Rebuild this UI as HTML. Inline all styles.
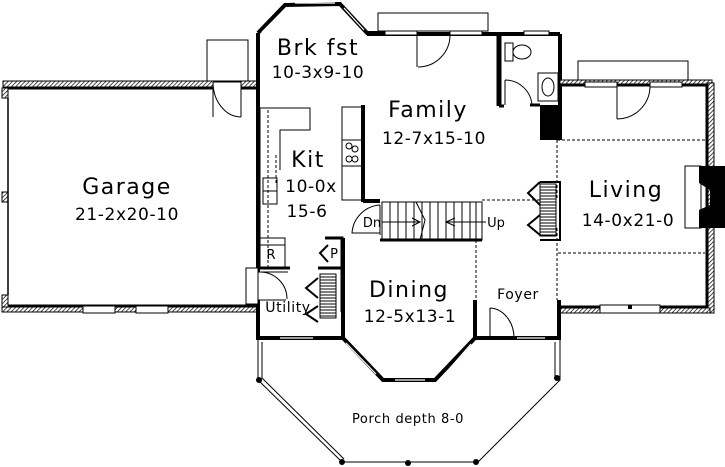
<!DOCTYPE html>
<html><head><meta charset="utf-8"><style>
html,body{margin:0;padding:0;background:#fff;width:725px;height:467px;overflow:hidden}
text{font-family:"DejaVu Sans","Liberation Sans",sans-serif;fill:#000}
.b{letter-spacing:1.5px}
.m{letter-spacing:0.6px}
</style></head><body>
<svg width="725" height="467" viewBox="0 0 725 467" xmlns="http://www.w3.org/2000/svg">
<defs>
<pattern id="h" width="3" height="3" patternUnits="userSpaceOnUse" patternTransform="rotate(45)">
<rect width="3" height="3" fill="#fff"/><line x1="0" y1="0" x2="0" y2="3" stroke="#000" stroke-width="1.4"/></pattern>
<pattern id="s" width="4" height="3" patternUnits="userSpaceOnUse">
<rect width="4" height="3" fill="#fff"/><line x1="0" y1="1" x2="4" y2="1" stroke="#000" stroke-width="1"/></pattern>
</defs>
<g fill="none" stroke="#000">
<!-- Garage -->
<rect x="3" y="81" width="255" height="6" fill="url(#h)" stroke-width="1"/>
<line x1="8" y1="88" x2="258" y2="88" stroke-width="3"/>
<rect x="2" y="88" width="6" height="10" fill="url(#h)" stroke-width="1"/>
<rect x="2" y="192" width="6" height="10" fill="url(#h)" stroke-width="1"/>
<line x1="8" y1="98" x2="8" y2="295" stroke-width="1.5"/>
<rect x="2" y="295" width="6" height="12" fill="url(#h)" stroke-width="1"/>
<rect x="2" y="307" width="256" height="5" fill="url(#h)" stroke-width="1"/>
<line x1="8" y1="306" x2="258" y2="306" stroke-width="3"/>
<rect x="83" y="306" width="32" height="7" fill="#fff" stroke-width="1"/>
<rect x="136" y="306" width="32" height="7" fill="#fff" stroke-width="1"/>
<rect x="207" y="40" width="41" height="41" stroke-width="1"/>
<path d="M213 82 v35 M213 82 h28 v35 M213 82 a28 35 0 0 0 28 35" fill="#fff" stroke-width="1"/>
<!-- main left wall -->
<line x1="258" y1="33" x2="258" y2="272" stroke-width="4"/>
<line x1="258" y1="300" x2="258" y2="340" stroke-width="4"/>
<rect x="246" y="268" width="12" height="36" fill="#fff" stroke-width="1"/>
<path d="M258 272 h30 M258 300 h28 M260 272 a27 27 0 0 1 27 27" stroke-width="1"/>
<!-- brkfst octagon -->
<path d="M258 33 L285 5 L340 4 L367 33 L415 33" stroke-width="4"/>
<path d="M262 32 L286 8 M295 3 h40 M344 8 L364 30" stroke="#fff" stroke-width="1.2"/>
<!-- family top -->
<path d="M367 34 H560" stroke-width="4"/>
<rect x="378" y="13" width="110" height="18" stroke-width="1"/>
<rect x="385" y="31" width="32" height="4" fill="#fff" stroke-width="1"/>
<rect x="450" y="31" width="32" height="4" fill="#fff" stroke-width="1"/>
<path d="M417 35 v32 M450 35 a32 32 0 0 1 -32 32" stroke-width="1"/>
<rect x="524" y="31" width="25" height="4" fill="#fff" stroke-width="1"/>
<!-- bath -->
<line x1="499" y1="34" x2="499" y2="106" stroke-width="5"/>
<line x1="499" y1="106" x2="504" y2="106" stroke-width="3"/>
<line x1="560" y1="34" x2="560" y2="140" stroke-width="4"/>
<rect x="540" y="105" width="20" height="35" fill="#000" stroke="none"/>
<line x1="530" y1="105" x2="540" y2="105" stroke-width="3"/>
<rect x="505" y="43" width="8" height="18" stroke-width="1"/>
<ellipse cx="522" cy="52" rx="9" ry="7" stroke-width="1"/>
<rect x="538" y="73" width="20" height="28" stroke-width="1"/>
<ellipse cx="548" cy="87" rx="6" ry="9" stroke-width="1"/>
<path d="M505 80 v25 M505 80 a27 27 0 0 1 27 26" stroke-width="1"/>
<!-- living -->
<rect x="560" y="80" width="152" height="6" fill="url(#h)" stroke-width="1"/>
<line x1="560" y1="85" x2="710" y2="85" stroke-width="3"/>
<rect x="578" y="61" width="110" height="19" stroke-width="1"/>
<rect x="585" y="82" width="32" height="5" fill="#fff" stroke-width="1"/>
<rect x="650" y="82" width="32" height="5" fill="#fff" stroke-width="1"/>
<path d="M617 87 v32 M650 87 a33 33 0 0 1 -33 32" stroke-width="1"/>
<rect x="708" y="83" width="6" height="230" fill="url(#h)" stroke-width="1"/>
<line x1="707" y1="85" x2="707" y2="308" stroke-width="3"/>
<rect x="685" y="166" width="16" height="62" fill="#fff" stroke-width="1"/>
<path d="M699 166 H725 V228 H699 V210 L710 205 V190 L699 183 Z" fill="#000" stroke="none"/>
<rect x="560" y="308" width="150" height="5" fill="url(#h)" stroke-width="1"/>
<line x1="560" y1="307" x2="708" y2="307" stroke-width="3"/>
<rect x="600" y="305" width="60" height="8" fill="#fff" stroke-width="1"/>
<rect x="628" y="305" width="4" height="4" fill="#000" stroke="none"/>
<line x1="559" y1="300" x2="559" y2="340" stroke-width="4"/>
<!-- dashed -->
<path d="M557 140 H707 M557 140 V200 M558 253 H705 M557 228 V300 M482 200 H540 M476 240 V300 M268 110 V268 M276 155 V185 M363 107 V200" stroke-width="1" stroke-dasharray="3,2"/>
<!-- kitchen counter -->
<path d="M260 108 H310 V130 H280 V170" stroke-width="1"/>
<path d="M260 108 V245 H285" stroke-width="1"/>
<rect x="263" y="178" width="14" height="26" stroke-width="1"/>
<line x1="263" y1="191" x2="277" y2="191" stroke-width="1"/>
<path d="M342 107 H362 V200 H342 Z" stroke-width="1"/>
<rect x="342" y="140" width="20" height="26" stroke-width="1"/>
<circle cx="349" cy="146" r="3" stroke-width="1"/><circle cx="355" cy="149" r="3" stroke-width="1"/>
<circle cx="349" cy="159" r="3" stroke-width="1"/><circle cx="355" cy="159" r="3" stroke-width="1"/>
<line x1="363" y1="105" x2="363" y2="202" stroke-width="4"/>
<line x1="363" y1="201" x2="380" y2="201" stroke-width="4"/>
<!-- fridge -->
<rect x="260" y="238" width="25" height="30" stroke-width="1"/>
<line x1="260" y1="268" x2="290" y2="268" stroke-width="3"/>
<!-- stairs -->
<rect x="382" y="202" width="100" height="38" stroke-width="1"/>
<line x1="380" y1="240" x2="482" y2="240" stroke-width="3"/>
<g stroke-width="1">
<path d="M390 202v38M398 202v38M406 202v38M414 202v38M422 202v38M430 202v38M438 202v38M446 202v38M454 202v38M462 202v38M470 202v38M476 202v38"/>
<path d="M382 222 H420 M412 218 L420 222 L412 226 M486 222 H446 M455 218 L446 222 L455 226 M416 202 L425 220 L420 240"/>
</g>
<path d="M380 205 v30 M380 205 a30 30 0 0 0 -28 28 h28" fill="#fff" stroke-width="1"/>
<!-- coat closet near living -->
<rect x="540" y="184" width="16" height="52" fill="url(#s)" stroke-width="1"/>
<path d="M540 182 H560 V240 H540 M540 182 L528 193 L540 205 M540 215 L528 225 L540 235" stroke-width="2"/>
<!-- pantry/utility closet -->
<path d="M325 238 H342 V312 M318 268 H342" stroke-width="3"/>
<rect x="320" y="274" width="16" height="44" fill="url(#s)" stroke-width="1"/>
<path d="M328 245 L320 253 L328 262 M318 278 L306 288 L318 298 M318 306 L306 314 L318 322" stroke-width="2"/>
<!-- dining octagon -->
<line x1="343" y1="238" x2="343" y2="338" stroke-width="4"/>
<path d="M258 338 H343 L383 380 H435 L475 338 H560" stroke-width="4"/>
<path d="M346 343 L376 374 M395 380 H425 M444 375 L471 344 M280 338 H313 M517 338 H545" stroke="#fff" stroke-width="1.2"/>
<line x1="475" y1="300" x2="475" y2="340" stroke-width="4"/>
<path d="M490 340 v-32 M490 308 a25 30 0 0 1 24 30" stroke-width="1"/>
<!-- porch -->
<path d="M258 340 V380 L342 462 H478 L560 380 V340" stroke-width="1"/>
<path d="M262 342 V378 L344 459 M555 342 V378" stroke-width="1"/>
<g fill="#000" stroke="none">
<circle cx="259" cy="380" r="3"/><circle cx="342" cy="462" r="3"/><circle cx="408" cy="463" r="3"/><circle cx="476" cy="462" r="3"/><circle cx="557" cy="378" r="3"/>
</g>
</g>
<text class="b" x="318" y="55" font-size="22" text-anchor="middle">Brk fst</text>
<text class="m" x="318" y="78" font-size="17" text-anchor="middle">10-3x9-10</text>
<text class="b" x="428" y="117" font-size="22" text-anchor="middle">Family</text>
<text class="m" x="434" y="144" font-size="17" text-anchor="middle">12-7x15-10</text>
<text class="b" x="308" y="167" font-size="22" text-anchor="middle">Kit</text>
<text class="m" x="311" y="192" font-size="17" text-anchor="middle">10-0x</text>
<text class="m" x="307" y="217" font-size="17" text-anchor="middle">15-6</text>
<text class="b" x="127" y="194" font-size="22" text-anchor="middle">Garage</text>
<text class="m" x="127" y="220" font-size="17" text-anchor="middle">21-2x20-10</text>
<text class="b" x="626" y="197" font-size="22" text-anchor="middle">Living</text>
<text class="m" x="628" y="226" font-size="17" text-anchor="middle">14-0x21-0</text>
<text class="b" x="409" y="297" font-size="22" text-anchor="middle">Dining</text>
<text class="m" x="410" y="322" font-size="17" text-anchor="middle">12-5x13-1</text>
<text class="m" x="518" y="299" font-size="14" text-anchor="middle">Foyer</text>
<text class="m" x="288" y="312" font-size="14" text-anchor="middle">Utility</text>
<text class="m" x="408" y="423" font-size="13" text-anchor="middle">Porch depth 8-0</text>
<text x="372" y="227" font-size="13" text-anchor="middle">Dn</text>
<text x="496" y="227" font-size="13" text-anchor="middle">Up</text>
<text x="271" y="259" font-size="13" text-anchor="middle">R</text>
<text x="334" y="258" font-size="13" text-anchor="middle">P</text>
</svg>
</body></html>
